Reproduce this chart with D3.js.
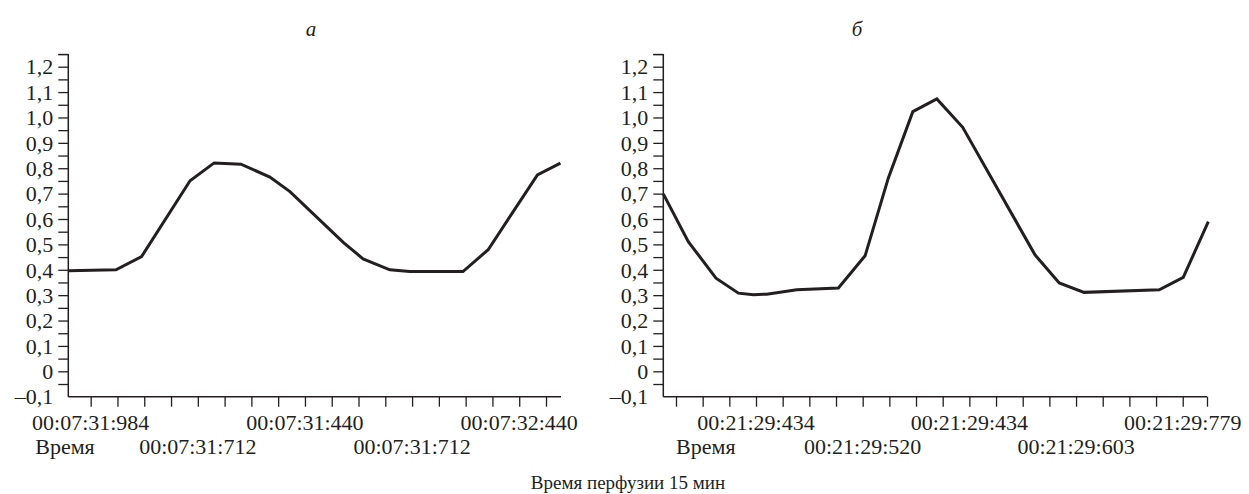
<!DOCTYPE html>
<html>
<head>
<meta charset="utf-8">
<script src="https://cdn.jsdelivr.net/npm/d3@7"></script>
<style>
  html, body { margin: 0; padding: 0; background: #fff; }
  svg { display: block; }
  text { font-family: "Liberation Serif", "Times New Roman", serif; fill: #231f20; }
</style>
</head>
<body>
<svg id="chart" width="1249" height="494"></svg>
<script>
// ---------- data (x in sample/tick units, y in signal units) ----------
const yTickValues = [-0.1, 0, 0.1, 0.2, 0.3, 0.4, 0.5, 0.6, 0.7, 0.8, 0.9, 1.0, 1.1, 1.2];

const aX = [-0.836, 0.944, 1.90, 3.71, 4.61, 5.61, 6.69, 7.44, 9.43, 10.17, 11.17, 11.91, 13.90, 14.84, 16.68, 17.54];
const aY = [0.396, 0.400, 0.452, 0.751, 0.821, 0.816, 0.765, 0.708, 0.508, 0.443, 0.400, 0.393, 0.393, 0.479, 0.774, 0.820];

const bX = [-0.476, 0.461, 1.50, 2.34, 2.90, 3.40, 4.53, 6.09, 7.09, 7.96, 8.88, 9.78, 10.75, 13.46, 14.37, 15.30, 18.12, 19.02, 19.96];
const bY = [0.699, 0.511, 0.367, 0.308, 0.302, 0.304, 0.321, 0.328, 0.455, 0.761, 1.023, 1.073, 0.961, 0.459, 0.348, 0.311, 0.321, 0.370, 0.590];

const aTickCount = 18;
const bTickCount = 20;

const aRow1Pos = [0, 8, 16];
const aRow1Labels = ["00:07:31:984", "00:07:31:440", "00:07:32:440"];
const aRow2Pos = [-0.96, 4, 12];
const aRow2Labels = ["Время", "00:07:31:712", "00:07:31:712"];

const bRow1Pos = [3, 11, 19];
const bRow1Labels = ["00:21:29:434", "00:21:29:434", "00:21:29:779"];
const bRow2Pos = [1.12, 7, 15];
const bRow2Labels = ["Время", "00:21:29:520", "00:21:29:603"];

const panelTitles = ["а", "б"];
const caption = "Время перфузии 15 мин";

// ---------- drawing ----------
const svg = d3.select("#chart");
const ink = "#231f20";
const yTop = 54, yBottom = 396.7;
const y = d3.scaleLinear().domain([-0.1, 1.25]).range([yBottom, yTop]);

function fmt(v) {
  if (Math.abs(v) < 1e-9) return "0";
  const s = Math.abs(v).toFixed(1).replace(".", ",");
  return (v < 0 ? "\u2013" : "") + s;
}

function panel(cfg) {
  const g = svg.append("g");
  const x = d3.scaleLinear().domain(cfg.xDomain).range(cfg.xRange);

  // y axis with minor ticks (every 0.05)
  const minor = d3.range(-0.05, 1.2501, 0.05).map(v => +v.toFixed(2));
  const yAxisMinor = d3.axisLeft(y).tickValues(minor).tickSize(10).tickFormat("");
  const gy = g.append("g").attr("transform", `translate(${cfg.xRange[0]},0)`).call(yAxisMinor);
  gy.select(".domain").remove();
  gy.selectAll("line").attr("stroke", ink).attr("stroke-width", 1.3);

  const yAxis = d3.axisLeft(y).tickValues(yTickValues).tickSize(0).tickPadding(15).tickFormat(fmt);
  const gyl = g.append("g").attr("transform", `translate(${cfg.xRange[0]},0)`).call(yAxis);
  gyl.select(".domain").remove();
  gyl.selectAll("text").attr("font-size", 22).attr("font-family", "Liberation Serif").attr("fill", ink).attr("dy", "0.33em");

  // x axis
  const xt = d3.range(cfg.tickCount).concat(cfg.endTick ? [cfg.xDomain[1]] : []);
  const xAxis = d3.axisBottom(x).tickValues(xt).tickSize(10).tickFormat("");
  const gx = g.append("g").attr("transform", `translate(0,${yBottom})`).call(xAxis);
  gx.select(".domain").remove();
  gx.selectAll("line").attr("stroke", ink).attr("stroke-width", 1.3);

  // axis lines
  g.append("line").attr("x1", cfg.xRange[0]).attr("x2", cfg.xRange[0])
    .attr("y1", yTop).attr("y2", yBottom).attr("stroke", ink).attr("stroke-width", 1.5);
  g.append("line").attr("x1", cfg.xRange[0]).attr("x2", cfg.xRange[1])
    .attr("y1", yBottom).attr("y2", yBottom).attr("stroke", ink).attr("stroke-width", 1.5);
  // top cap tick
  g.append("line").attr("x1", cfg.xRange[0] - 10).attr("x2", cfg.xRange[0])
    .attr("y1", yTop + 0.6).attr("y2", yTop + 0.6).attr("stroke", ink).attr("stroke-width", 1.3);

  // labels rows
  cfg.row1Pos.forEach((p, i) => {
    g.append("text").attr("x", x(p)).attr("y", 430).attr("text-anchor", "middle")
      .attr("font-size", 22).text(cfg.row1Labels[i]);
  });
  cfg.row2Pos.forEach((p, i) => {
    g.append("text").attr("x", x(p)).attr("y", 454).attr("text-anchor", "middle")
      .attr("font-size", 22).text(cfg.row2Labels[i]);
  });

  // data line
  const pts = cfg.xs.map((v, i) => [v, cfg.ys[i]]);
  const line = d3.line().x(d => x(d[0])).y(d => y(d[1]));
  g.append("path").datum(pts).attr("d", line).attr("fill", "none")
    .attr("stroke", ink).attr("stroke-width", 3).attr("stroke-linejoin", "miter");

  // title
  g.append("text").attr("x", cfg.titleX).attr("y", 36).attr("text-anchor", "middle")
    .attr("font-size", 21).attr("font-style", "italic").text(cfg.title);
}

panel({
  xDomain: [-0.836, 17.56], xRange: [68.3, 561], tickCount: aTickCount, endTick: false,
  xs: aX, ys: aY,
  row1Pos: aRow1Pos, row1Labels: aRow1Labels, row2Pos: aRow2Pos, row2Labels: aRow2Labels,
  title: panelTitles[0], titleX: 311
});
panel({
  xDomain: [-0.476, 19.91], xRange: [663.3, 1207], tickCount: bTickCount, endTick: true,
  xs: bX, ys: bY,
  row1Pos: bRow1Pos, row1Labels: bRow1Labels, row2Pos: bRow2Pos, row2Labels: bRow2Labels,
  title: panelTitles[1], titleX: 857
});

svg.append("text").attr("x", 628).attr("y", 489).attr("text-anchor", "middle")
  .attr("font-size", 19).text(caption);
</script>
</body>
</html>
